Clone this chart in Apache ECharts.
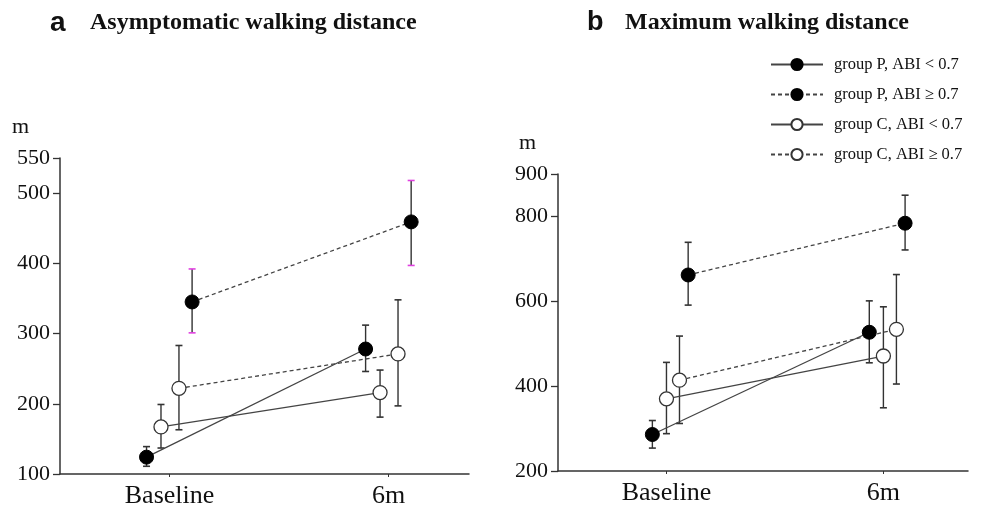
<!DOCTYPE html>
<html>
<head>
<meta charset="utf-8">
<script src="https://cdn.jsdelivr.net/npm/echarts@6/dist/echarts.min.js"></script>
<style>
  html, body { margin: 0; padding: 0; background: #fff; }
  #main { width: 986px; height: 511px; }
</style>
</head>
<body>
<div id="main"></div>
<script>
// categories and groups
var cats = ['Baseline', '6m'];
var groups = ['group P, ABI < 0.7', 'group P, ABI ≥ 0.7', 'group C, ABI < 0.7', 'group C, ABI ≥ 0.7'];

// a: asymptomatic walking distance (m), per group: [Baseline, 6m]
var aMean  = [[124, 278], [345, 459], [167, 216], [222, 271]];
var aLower = [[111, 246], [301, 397], [137, 181], [163, 197]];
var aUpper = [[139, 312], [392, 518], [199, 248], [283, 348]];
var aTicks = [100, 200, 300, 400, 500, 550];

// b: maximum walking distance (m)
var bMean  = [[286, 527], [662, 784], [370, 471], [414, 534]];
var bLower = [[254, 455], [591, 721], [288, 349], [312, 405]];
var bUpper = [[319, 601], [739, 850], [456, 587], [518, 663]];
var bTicks = [200, 400, 600, 800, 900];

// horizontal dodge of each group around its category (in category units)
var dodgeA = [-0.105, 0.103, -0.039, 0.043];
var dodgeB = [-0.065, 0.100, 0.000, 0.060];

var serif = '"Liberation Serif", "Times New Roman", serif';
var filled = [true, true, false, false];
var dashed = [false, true, false, true];

var chart = echarts.init(document.getElementById('main'), null, { renderer: 'canvas' });

function xAxis(idx, max) {
  return {
    type: 'value', gridIndex: idx, min: -0.5, max: max,
    axisLine: { show: true, onZero: false, lineStyle: { color: '#333', width: 1.5 } },
    axisTick: { show: true, customValues: [0, 1], length: 3, lineStyle: { color: '#333' } },
    axisLabel: {
      customValues: [0, 1], margin: 9,
      formatter: function (v) { return cats[Math.round(v)]; },
      fontFamily: serif, fontSize: 26, color: '#111'
    },
    splitLine: { show: false }
  };
}

function yAxis(idx, min, max, ticks) {
  return {
    type: 'value', gridIndex: idx, min: min, max: max,
    axisLine: { show: true, onZero: false, lineStyle: { color: '#333', width: 1.5 } },
    axisTick: { show: true, customValues: ticks, length: 7, lineStyle: { color: '#333', width: 1.3 } },
    axisLabel: { customValues: ticks, margin: 10, fontFamily: serif, fontSize: 22, color: '#111' },
    splitLine: { show: false }
  };
}

function errorBars(idx, lower, upper, dodge, g, capColor) {
  var data = cats.map(function (c, i) { return [i + dodge[g], lower[g][i], upper[g][i]]; });
  return {
    type: 'custom', name: 'err' + idx + g, xAxisIndex: idx, yAxisIndex: idx, z: 1,
    silent: true,
    renderItem: function (params, api) {
      var top = api.coord([api.value(0), api.value(2)]);
      var bot = api.coord([api.value(0), api.value(1)]);
      var w = 3.5;
      return {
        type: 'group',
        children: [
          { type: 'line', shape: { x1: top[0], y1: top[1], x2: bot[0], y2: bot[1] },
            style: { stroke: '#333', lineWidth: 1.4 } },
          { type: 'line', shape: { x1: top[0] - w, y1: top[1], x2: top[0] + w, y2: top[1] },
            style: { stroke: capColor, lineWidth: 1.6 } },
          { type: 'line', shape: { x1: bot[0] - w, y1: bot[1], x2: bot[0] + w, y2: bot[1] },
            style: { stroke: capColor, lineWidth: 1.6 } }
        ]
      };
    },
    data: data
  };
}

function groupLine(idx, mean, dodge, g) {
  return {
    type: 'line', name: groups[g], xAxisIndex: idx, yAxisIndex: idx, z: 3,
    data: cats.map(function (c, i) { return [i + dodge[g], mean[g][i]]; }),
    symbol: 'circle', symbolSize: 14,
    itemStyle: filled[g]
      ? { color: '#000', borderColor: '#000', borderWidth: 1 }
      : { color: '#fff', borderColor: '#333', borderWidth: 1.3 },
    lineStyle: { color: '#444', width: 1.3, type: dashed[g] ? [4, 3] : 'solid' },
    emphasis: { disabled: true }
  };
}

var series = [];
groups.forEach(function (name, g) {
  series.push(errorBars(0, aLower, aUpper, dodgeA, g, g === 1 ? '#e040e0' : '#333'));
  series.push(errorBars(1, bLower, bUpper, dodgeB, g, '#333'));
});
groups.forEach(function (name, g) {
  series.push(groupLine(0, aMean, dodgeA, g));
  series.push(groupLine(1, bMean, dodgeB, g));
});

var option = {
  animation: false,
  backgroundColor: '#fff',
  grid: [
    { left: 60, top: 158, width: 409, height: 316 },
    { left: 558, top: 174, width: 410, height: 297 }
  ],
  xAxis: [xAxis(0, 1.367), xAxis(1, 1.39)],
  yAxis: [yAxis(0, 100, 550, aTicks), yAxis(1, 200, 900, bTicks)],
  legend: {
    data: groups, orient: 'vertical', left: 770, top: 56, padding: 0,
    itemWidth: 52, itemHeight: 14, itemGap: 13, selectedMode: false,
    textStyle: { fontFamily: serif, fontSize: 16.5, color: '#111', padding: [0, 0, 0, 6] }
  },
  graphic: [
    { type: 'text', left: 50, top: 9, style: { text: 'a', font: 'bold 28px "Liberation Sans", Arial', fill: '#111' } },
    { type: 'text', left: 90, top: 11, style: { text: 'Asymptomatic walking distance', font: 'bold 24px ' + serif, fill: '#111' } },
    { type: 'text', left: 587, top: 9, style: { text: 'b', font: 'bold 27px "Liberation Sans", Arial', fill: '#111' } },
    { type: 'text', left: 625, top: 11, style: { text: 'Maximum walking distance', font: 'bold 24px ' + serif, fill: '#111' } },
    { type: 'text', left: 12, top: 116, style: { text: 'm', font: '22px ' + serif, fill: '#111' } },
    { type: 'text', left: 519, top: 132, style: { text: 'm', font: '22px ' + serif, fill: '#111' } }
  ],
  series: series
};

chart.setOption(option);
</script>
</body>
</html>
